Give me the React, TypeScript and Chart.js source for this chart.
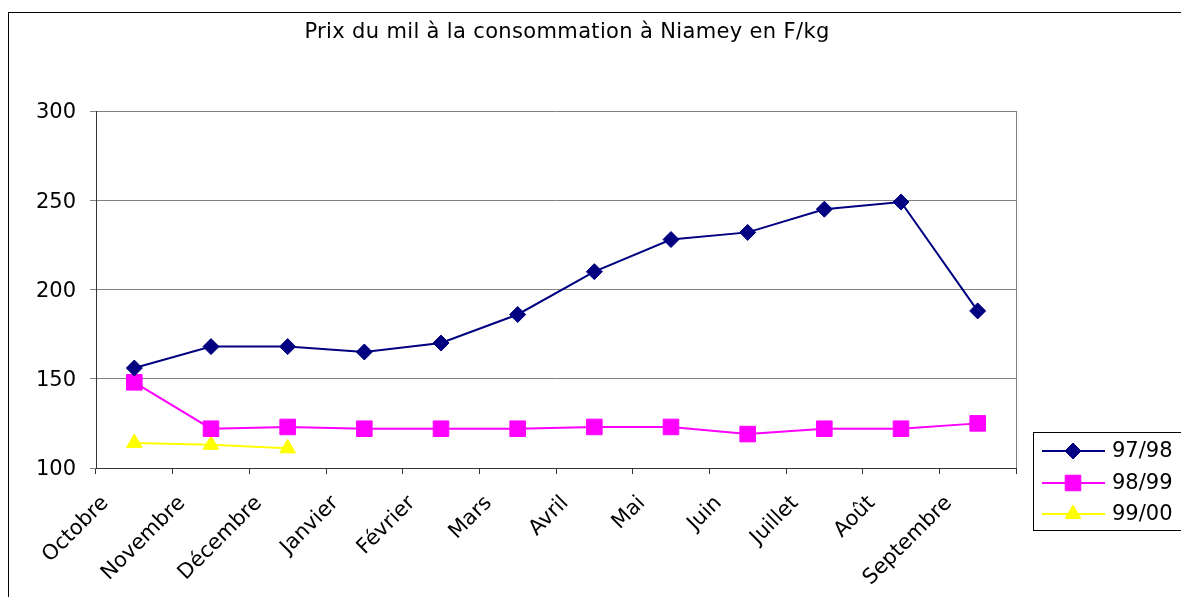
import React, { useEffect, useRef } from 'react';
import { Chart, registerables } from 'chart.js';
import { drawPoint } from 'chart.js/helpers';

Chart.register(...registerables);

const TITLE = 'Prix du mil à la consommation à Niamey en F/kg';
const MONTHS = ['Octobre', 'Novembre', 'Décembre', 'Janvier', 'Février', 'Mars', 'Avril', 'Mai', 'Juin', 'Juillet', 'Août', 'Septembre'];
const SERIES_NAMES = ['97/98', '98/99', '99/00'];
const S_9798 = [156, 168, 168, 165, 170, 186, 210, 228, 232, 245, 249, 188];
const S_9899 = [148, 122, 123, 122, 122, 122, 123, 123, 119, 122, 122, 125];
const S_9900 = [114, 113, 111, null, null, null, null, null, null, null, null, null];
const Y_MIN = 100;
const Y_MAX = 300;
const Y_STEP = 50;

const FONT = 'DejaVu Sans';
const W = 1181;
const H = 597;

const decor = {
  id: 'decor',
  beforeDraw(chart: any) {
    const ctx = chart.ctx;
    ctx.save();
    ctx.fillStyle = '#ffffff';
    ctx.fillRect(0, 0, W, H);
    ctx.strokeStyle = '#000000';
    ctx.lineWidth = 1;
    ctx.strokeRect(8.5, 12.5, 1400, 800);
    ctx.restore();
  },
  beforeDatasetsDraw(chart: any) {
    const ctx = chart.ctx;
    const a = chart.chartArea;
    ctx.save();
    ctx.strokeStyle = '#808080';
    ctx.lineWidth = 1;
    ctx.beginPath();
    ctx.moveTo(Math.round(a.right) + 0.5, a.top);
    ctx.lineTo(Math.round(a.right) + 0.5, a.bottom);
    ctx.stroke();
    ctx.restore();
  },
  afterDraw(chart: any) {
    const ctx = chart.ctx;
    ctx.save();
    // title
    ctx.fillStyle = '#000';
    ctx.font = `21px "${FONT}"`;
    (ctx as any).letterSpacing = '0.35px';
    ctx.textAlign = 'center';
    ctx.textBaseline = 'middle';
    ctx.fillText(TITLE, 567, 33);
    (ctx as any).letterSpacing = '0px';
    // legend
    const lx = 1033.5, ly = 432.5;
    ctx.strokeStyle = '#000';
    ctx.lineWidth = 1;
    ctx.strokeRect(lx, ly, 300, 98);
    const rows = [451, 483, 514];
    chart.data.datasets.forEach((ds: any, i: number) => {
      const y = rows[i];
      ctx.strokeStyle = ds.borderColor;
      ctx.lineWidth = 2;
      ctx.beginPath();
      ctx.moveTo(1042, y);
      ctx.lineTo(1105, y);
      ctx.stroke();
      ctx.fillStyle = ds.pointBackgroundColor;
      ctx.strokeStyle = ds.pointBorderColor;
      ctx.lineWidth = 1;
      drawPoint(ctx, { pointStyle: ds.pointStyle, radius: ds.pointRadius, borderWidth: 1, rotation: 0 }, 1073, y);
      ctx.fillStyle = '#000';
      ctx.font = `21px "${FONT}"`;
      ctx.textAlign = 'left';
      ctx.textBaseline = 'middle';
      ctx.fillText(ds.label, 1112, y + 1);
    });
    ctx.restore();
  },
};

export default function App() {
  const ref = useRef<HTMLCanvasElement>(null);
  useEffect(() => {
    if (!ref.current) return;
    const mk = (label: string, data: (number | null)[], color: string, style: string, r: number) => ({
      label,
      data,
      borderColor: color,
      backgroundColor: color,
      pointBackgroundColor: color,
      pointBorderColor: color,
      borderWidth: 2,
      pointStyle: style,
      pointRadius: r,
      pointHoverRadius: r,
      pointBorderWidth: 1,
      tension: 0,
      spanGaps: false,
    });
    const chart = new Chart(ref.current, {
      type: 'line',
      data: {
        labels: MONTHS,
        datasets: [
          mk(SERIES_NAMES[0], S_9798, '#000080', 'rectRot', 8),
          mk(SERIES_NAMES[1], S_9899, '#FF00FF', 'rect', 11),
          mk(SERIES_NAMES[2], S_9900, '#FFFF00', 'triangle', 9),
        ],
      },
      options: {
        animation: false,
        responsive: false,
        devicePixelRatio: 1,
        layout: { padding: { top: 111, right: 165, left: 0, bottom: 0 } },
        plugins: {
          legend: { display: false },
          title: { display: false },
          tooltip: { enabled: false },
        },
        scales: {
          x: {
            type: 'category',
            offset: true,
            grid: { offset: true, drawOnChartArea: false, tickLength: 6, color: '#333333', lineWidth: 1 },
            border: { color: '#333333', width: 1 },
            ticks: {
              autoSkip: false,
              maxRotation: 45,
              minRotation: 45,
              color: '#000',
              font: { family: FONT, size: 21 },
              padding: 17,
              labelOffset: -29,
            },
            afterFit(scale: any) {
              scale.height = 129;
            },
          },
          y: {
            min: Y_MIN,
            max: Y_MAX,
            grid: { color: '#808080', lineWidth: 1, tickLength: 6 },
            border: { color: '#333333', width: 1 },
            ticks: {
              stepSize: Y_STEP,
              color: '#000',
              font: { family: FONT, size: 21 },
              padding: 14,
              labelOffset: 2,
            },
            afterFit(scale: any) {
              scale.width = 96;
            },
          },
        },
      },
      plugins: [decor],
    } as any);
    return () => chart.destroy();
  }, []);
  return (
    <div style={{ position: 'fixed', left: 0, top: 0, width: W, height: H, background: '#fff' }}>
      <canvas ref={ref} width={W} height={H} style={{ display: 'block', width: W, height: H }} />
    </div>
  );
}
